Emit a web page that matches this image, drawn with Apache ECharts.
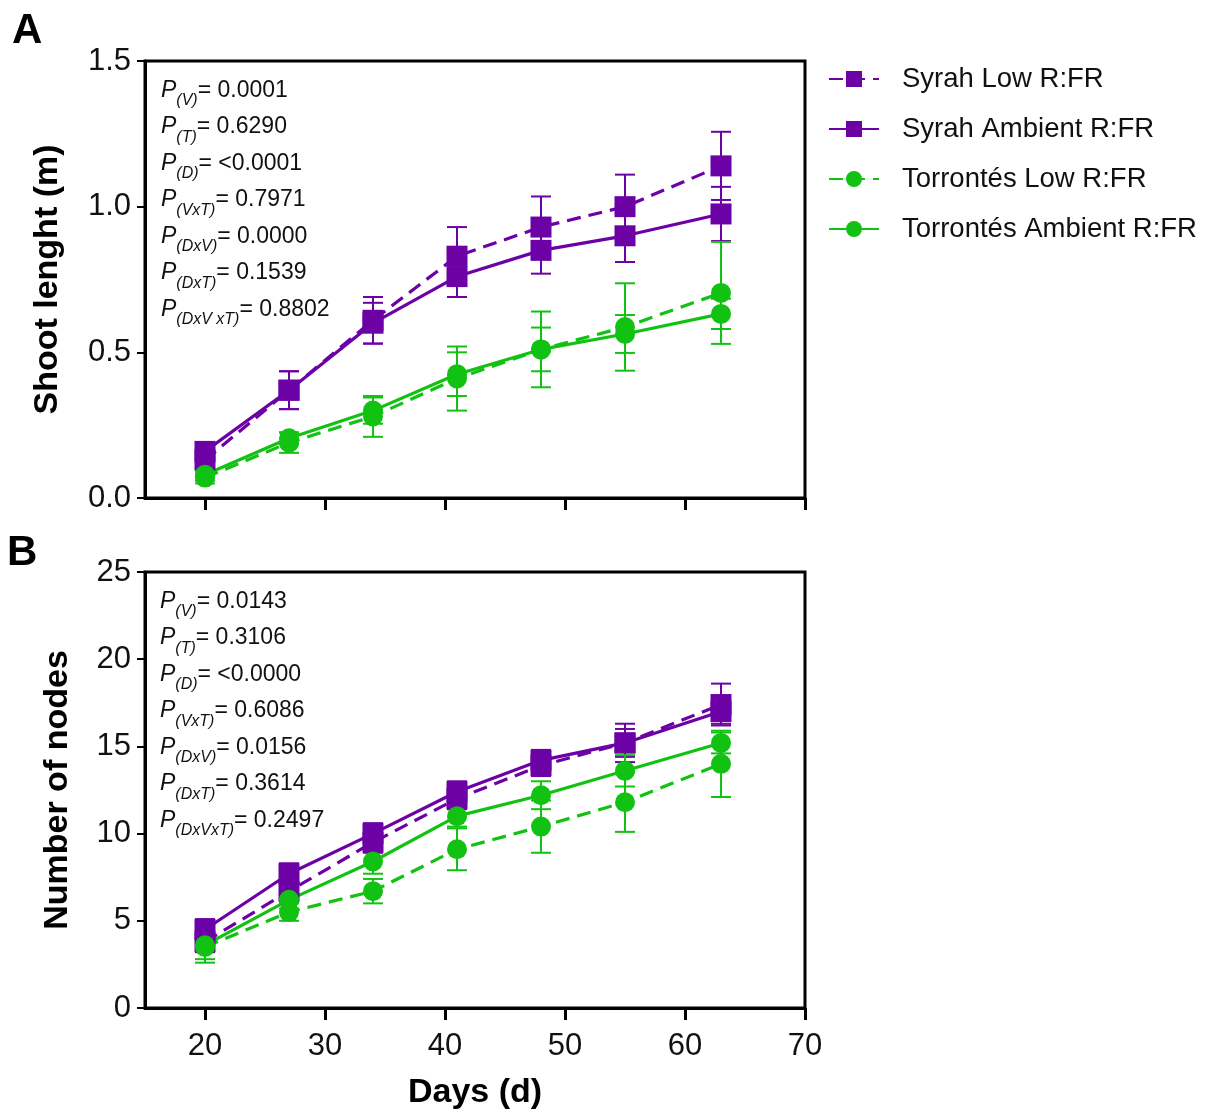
<!DOCTYPE html>
<html><head><meta charset="utf-8">
<script src="https://cdn.jsdelivr.net/npm/echarts@6/dist/echarts.min.js"></script>
<style>html,body{margin:0;padding:0;background:#fff}#c{width:1220px;height:1111px}</style>
</head><body><div id="c"></div>
<script>
const days = [20, 27, 34, 41, 48, 55, 63];
const xTickValues = [20, 30, 40, 50, 60, 70];
const seriesNames = ['Syrah Low R:FR', 'Syrah Ambient R:FR', 'Torrontés Low R:FR', 'Torrontés Ambient R:FR'];

// Panel A: shoot length (m)
const syrahLowA = [0.13, 0.37, 0.61, 0.83, 0.93, 1.00, 1.14];
const syrahLowAErr = [0.03, 0.065, 0.08, 0.10, 0.105, 0.11, 0.117];
const syrahAmbA = [0.16, 0.37, 0.60, 0.76, 0.85, 0.90, 0.975];
const syrahAmbAErr = [0.03, 0.065, 0.07, 0.07, 0.08, 0.09, 0.093];
const torLowA = [0.07, 0.19, 0.28, 0.41, 0.51, 0.587, 0.704];
const torLowAErr = [0.02, 0.035, 0.07, 0.11, 0.13, 0.15, 0.175];
const torAmbA = [0.08, 0.205, 0.30, 0.425, 0.51, 0.563, 0.632];
const torAmbAErr = [0.02, 0.02, 0.045, 0.075, 0.075, 0.065, 0.052];

// Panel B: number of nodes
const syrahLowB = [3.8, 6.7, 9.5, 12.0, 13.9, 15.2, 17.4];
const syrahLowBErr = [0.6, 0.6, 0.6, 0.6, 0.6, 0.8, 1.2];
const syrahAmbB = [4.5, 7.7, 10.0, 12.4, 14.2, 15.2, 17.0];
const syrahAmbBErr = [0.6, 0.6, 0.6, 0.6, 0.6, 1.1, 0.7];
const torLowB = [3.5, 5.5, 6.7, 9.1, 10.4, 11.8, 14.0];
const torLowBErr = [0.9, 0.5, 0.7, 1.2, 1.5, 1.7, 1.9];
const torAmbB = [3.6, 6.2, 8.4, 11.0, 12.2, 13.6, 15.2];
const torAmbBErr = [0.8, 0.5, 0.7, 0.6, 0.8, 0.9, 0.6];

// P-value annotations
const pLabelsA = [['V', '0.0001'], ['T', '0.6290'], ['D', '<0.0001'], ['VxT', '0.7971'], ['DxV', '0.0000'], ['DxT', '0.1539'], ['DxV xT', '0.8802']];
const pLabelsB = [['V', '0.0143'], ['T', '0.3106'], ['D', '<0.0000'], ['VxT', '0.6086'], ['DxV', '0.0156'], ['DxT', '0.3614'], ['DxVxT', '0.2497']];

const PURPLE = '#6c02a6';
const GREEN = '#12c212';
const FONT = 'Liberation Sans, Arial, sans-serif';

const chart = echarts.init(document.getElementById('c'), null, {renderer: 'canvas'});

function lineSeries(name, vals, color, dashed, symbol, gi) {
  return {
    name: name, type: 'line', xAxisIndex: gi, yAxisIndex: gi,
    data: days.map((d, i) => [d, vals[i]]),
    symbol: symbol, symbolSize: symbol === 'rect' ? 21 : 20,
    itemStyle: {color: color},
    lineStyle: {color: color, width: 3.2, type: dashed ? [14, 8] : 'solid'},
    z: 5, animation: false
  };
}
function errSeries(name, vals, errs, color, gi) {
  return {
    name: name + ' err', type: 'custom', xAxisIndex: gi, yAxisIndex: gi,
    data: days.map((d, i) => [d, vals[i] - errs[i], vals[i] + errs[i]]),
    encode: {x: 0, y: [1, 2]},
    renderItem: function (params, api) {
      const lo = api.coord([api.value(0), api.value(1)]);
      const hi = api.coord([api.value(0), api.value(2)]);
      const hw = 10;
      const st = {stroke: color, lineWidth: 2};
      return {type: 'group', children: [
        {type: 'line', shape: {x1: lo[0], y1: lo[1], x2: hi[0], y2: hi[1]}, style: st},
        {type: 'line', shape: {x1: lo[0] - hw, y1: lo[1], x2: lo[0] + hw, y2: lo[1]}, style: st},
        {type: 'line', shape: {x1: hi[0] - hw, y1: hi[1], x2: hi[0] + hw, y2: hi[1]}, style: st}
      ]};
    },
    z: 4, animation: false, silent: true
  };
}

function pText(list, left, top) {
  const lines = list.map(p => '{p|P}{s|(' + p[0] + ')}{n|= ' + p[1] + '}');
  return {
    type: 'text', left: left, top: top,
    style: {
      text: lines.join('\n'),
      rich: {
        p: {fontFamily: FONT, fontStyle: 'italic', fontSize: 23, lineHeight: 36.5, verticalAlign: 'middle', fill: '#111'},
        s: {fontFamily: FONT, fontStyle: 'italic', fontSize: 16, lineHeight: 36.5, verticalAlign: 'bottom', fill: '#111'},
        n: {fontFamily: FONT, fontSize: 23, lineHeight: 36.5, verticalAlign: 'middle', fill: '#111'}
      }
    }
  };
}

const xAxisCommon = {
  type: 'value', min: 15, max: 70,
  axisLine: {lineStyle: {color: '#000', width: 3}},
  axisTick: {show: true, customValues: xTickValues, length: 12, lineStyle: {color: '#000', width: 3}},
  splitLine: {show: false}
};
const yAxisCommon = {
  type: 'value',
  axisLine: {show: true, lineStyle: {color: '#000', width: 3}},
  axisTick: {show: true, length: 8, lineStyle: {color: '#000', width: 2}},
  splitLine: {show: false},
  nameLocation: 'middle', nameRotate: 90,
  nameTextStyle: {fontFamily: FONT, fontWeight: 'bold', fontSize: 34, color: '#000'}
};

const option = {
  backgroundColor: '#fff',
  animation: false,
  grid: [
    {left: 145, top: 61, width: 660, height: 437, show: true, borderColor: '#000', borderWidth: 3, backgroundColor: 'transparent'},
    {left: 145, top: 572, width: 660, height: 438, show: true, borderColor: '#000', borderWidth: 3, backgroundColor: 'transparent'}
  ],
  xAxis: [
    Object.assign({}, xAxisCommon, {gridIndex: 0, axisLabel: {show: false}}),
    Object.assign({}, xAxisCommon, {gridIndex: 1,
      axisLabel: {show: true, customValues: xTickValues, fontFamily: FONT, fontSize: 31, color: '#111', margin: 23},
      name: 'Days (d)', nameLocation: 'middle', nameGap: 68,
      nameTextStyle: {fontFamily: FONT, fontWeight: 'bold', fontSize: 34, color: '#000'}})
  ],
  yAxis: [
    Object.assign({}, yAxisCommon, {gridIndex: 0, min: 0, max: 1.5, interval: 0.5, name: 'Shoot lenght (m)', nameGap: 80,
      axisLabel: {fontFamily: FONT, fontSize: 31, color: '#111', margin: 14, formatter: v => v.toFixed(1)}}),
    Object.assign({}, yAxisCommon, {gridIndex: 1, min: 0, max: 25, interval: 5, name: 'Number of nodes', nameGap: 70,
      axisLabel: {fontFamily: FONT, fontSize: 31, color: '#111', margin: 14}})
  ],
  legend: {
    data: seriesNames, orient: 'vertical', left: 828, top: 65, padding: 0,
    itemWidth: 50, itemHeight: 20, itemGap: 22,
    textStyle: {fontFamily: FONT, fontSize: 27.5, color: '#111', padding: [0, 0, 0, 18]},
    selectedMode: false
  },
  graphic: [
    {type: 'text', left: 12, top: 10, style: {text: 'A', fontFamily: FONT, fontWeight: 'bold', fontSize: 42, fill: '#000'}},
    {type: 'text', left: 7, top: 532, style: {text: 'B', fontFamily: FONT, fontWeight: 'bold', fontSize: 42, fill: '#000'}},
    pText(pLabelsA, 161, 79),
    pText(pLabelsB, 160, 590)
  ],
  series: [
    errSeries(seriesNames[0], syrahLowA, syrahLowAErr, PURPLE, 0),
    errSeries(seriesNames[1], syrahAmbA, syrahAmbAErr, PURPLE, 0),
    errSeries(seriesNames[2], torLowA, torLowAErr, GREEN, 0),
    errSeries(seriesNames[3], torAmbA, torAmbAErr, GREEN, 0),
    lineSeries(seriesNames[0], syrahLowA, PURPLE, true, 'rect', 0),
    lineSeries(seriesNames[1], syrahAmbA, PURPLE, false, 'rect', 0),
    lineSeries(seriesNames[2], torLowA, GREEN, true, 'circle', 0),
    lineSeries(seriesNames[3], torAmbA, GREEN, false, 'circle', 0),
    errSeries(seriesNames[0], syrahLowB, syrahLowBErr, PURPLE, 1),
    errSeries(seriesNames[1], syrahAmbB, syrahAmbBErr, PURPLE, 1),
    errSeries(seriesNames[2], torLowB, torLowBErr, GREEN, 1),
    errSeries(seriesNames[3], torAmbB, torAmbBErr, GREEN, 1),
    lineSeries(seriesNames[0], syrahLowB, PURPLE, true, 'rect', 1),
    lineSeries(seriesNames[1], syrahAmbB, PURPLE, false, 'rect', 1),
    lineSeries(seriesNames[2], torLowB, GREEN, true, 'circle', 1),
    lineSeries(seriesNames[3], torAmbB, GREEN, false, 'circle', 1)
  ]
};
chart.setOption(option);
</script>
</body></html>
